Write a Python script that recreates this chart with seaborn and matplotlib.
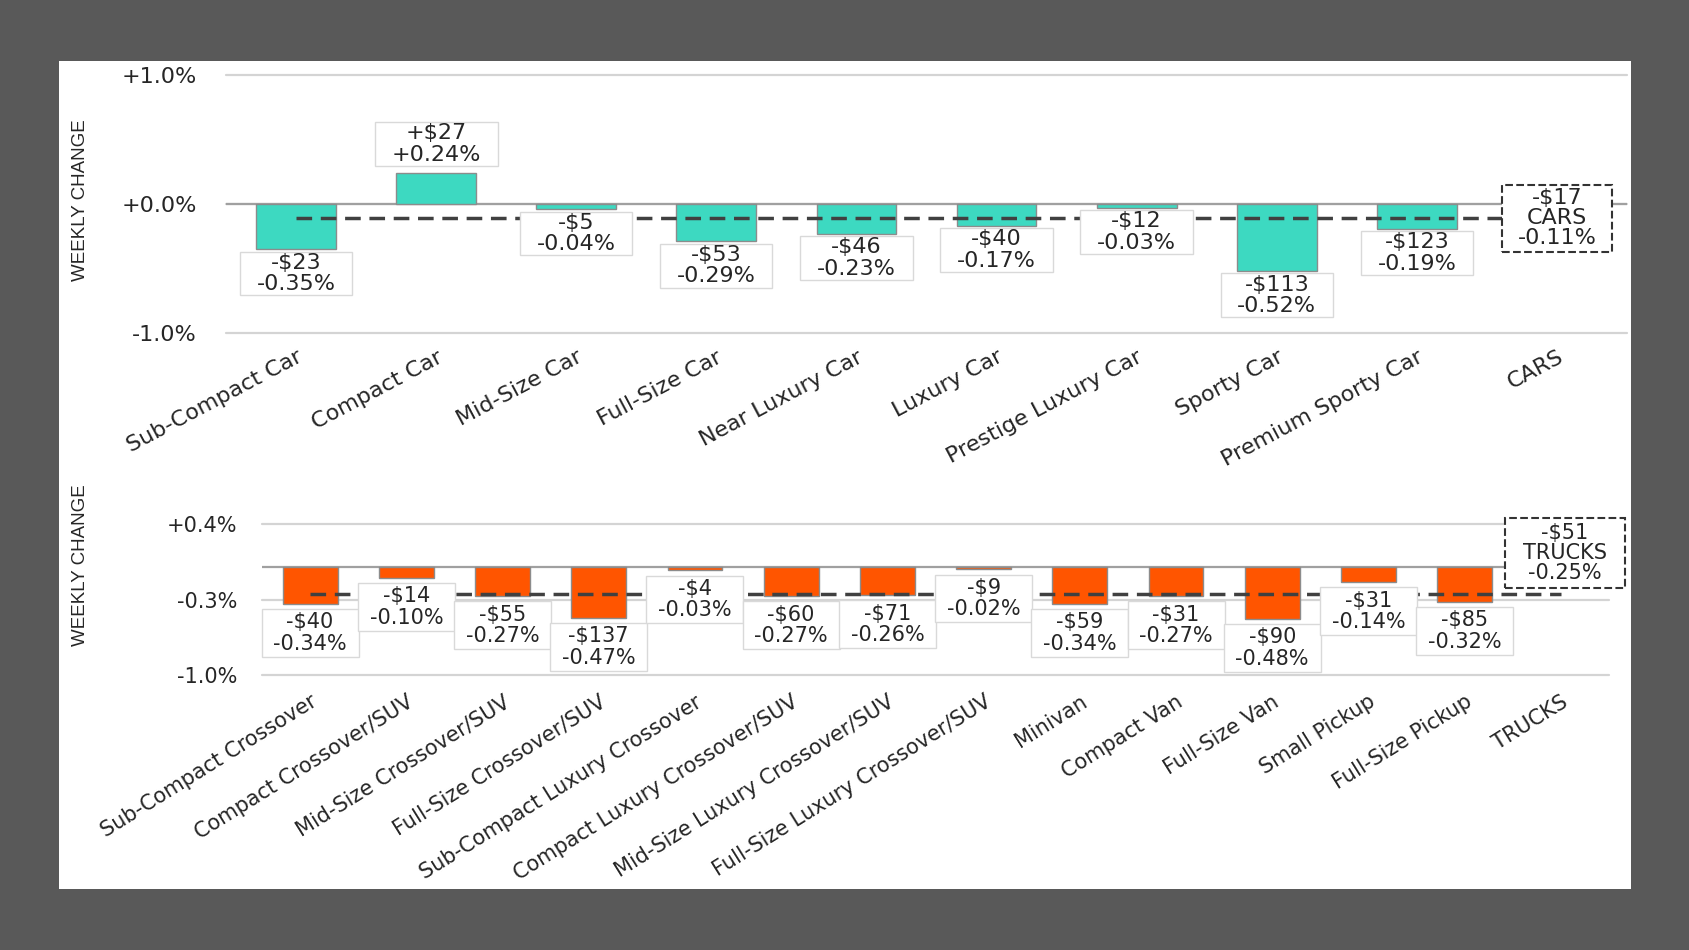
import matplotlib
matplotlib.use("Agg")
import matplotlib.pyplot as plt
from matplotlib.patches import Rectangle
from matplotlib.path import Path
import seaborn as sns

# Data: weekly change by segment
car_cats = ["Sub-Compact Car", "Compact Car", "Mid-Size Car", "Full-Size Car",
            "Near Luxury Car", "Luxury Car", "Prestige Luxury Car", "Sporty Car",
            "Premium Sporty Car"]
car_dollars = [-23, 27, -5, -53, -46, -40, -12, -113, -123]
car_pcts = [-0.35, 0.24, -0.04, -0.29, -0.23, -0.17, -0.03, -0.52, -0.19]
car_total_name = "CARS"
car_total_dollar = -17
car_total_pct = -0.11
car_yticks = [1.0, 0.0, -1.0]

truck_cats = ["Sub-Compact Crossover", "Compact Crossover/SUV", "Mid-Size Crossover/SUV",
              "Full-Size Crossover/SUV", "Sub-Compact Luxury Crossover",
              "Compact Luxury Crossover/SUV", "Mid-Size Luxury Crossover/SUV",
              "Full-Size Luxury Crossover/SUV", "Minivan", "Compact Van", "Full-Size Van",
              "Small Pickup", "Full-Size Pickup"]
truck_dollars = [-40, -14, -55, -137, -4, -60, -71, -9, -59, -31, -90, -31, -85]
truck_pcts = [-0.34, -0.10, -0.27, -0.47, -0.03, -0.27, -0.26, -0.02, -0.34, -0.27,
              -0.48, -0.14, -0.32]
truck_total_name = "TRUCKS"
truck_total_dollar = -51
truck_total_pct = -0.25
truck_yticks = [0.4, -0.3, -1.0]

# Style
sns.set_theme(style="white")
plt.rcParams["font.family"] = ["DejaVu Sans"]
TEXT = "#262626"
W, H = 1690, 950

fig = plt.figure(figsize=(W / 100, H / 100), dpi=100, facecolor="#595959")
fig.add_artist(Rectangle((59 / W, 1 - 889 / H), (1631 - 59) / W, (889 - 61) / H,
                         transform=fig.transFigure, facecolor="white",
                         edgecolor="none", zorder=0))


def money(d):
    return f"{'+' if d > 0 else '-'}${abs(d)}"


def wide_box(padx, pady):
    # square box with separate horizontal / vertical padding (fraction of font size)
    def box(x0, y0, width, height, mutation_size):
        px, py = padx * mutation_size, pady * mutation_size
        xa, ya = x0 - px, y0 - py
        xb, yb = x0 + width + px, y0 + height + py
        return Path([(xa, ya), (xb, ya), (xb, yb), (xa, yb), (xa, ya)], closed=True)
    return box


def draw_panel(ax, cats, dollars, pcts, total_name, total_dollar, total_pct, color,
               yticks, fs, rot, ypad, xpad, lab_pad, lab_off, tot_pad, total_va,
               total_off):
    order = cats + [total_name]
    sns.barplot(x=cats, y=pcts, order=order, color=color, saturation=1, width=0.57,
                edgecolor="#8c8c8c", linewidth=1, errorbar=None, ax=ax, zorder=2)
    ax.set_facecolor("none")
    ax.set_ylim(min(yticks), max(yticks))
    ax.set_xlim(-0.5, len(order) - 0.5)

    for t in yticks:
        ax.axhline(t, color="#d4d4d4", lw=1.6, zorder=0.5, clip_on=False)
    ax.axhline(0, color="#a0a0a0", lw=1.6, zorder=1)

    ax.set_yticks(yticks)
    ax.set_yticklabels([f"{t:+.1f}%" for t in yticks])
    ax.set_xticks(range(len(order)))
    ax.set_xticklabels(order, rotation=rot, ha="right", rotation_mode="anchor")
    ax.tick_params(axis="y", length=0, pad=ypad, labelsize=fs, labelcolor=TEXT)
    ax.tick_params(axis="x", length=0, pad=xpad, labelsize=fs, labelcolor=TEXT)
    ax.set_xlabel("")
    ax.set_ylabel("")
    sns.despine(ax=ax, left=True, bottom=True)

    # value labels
    up_off, down_off = lab_off
    for i, (d, p) in enumerate(zip(dollars, pcts)):
        up = p >= 0
        ax.annotate(f"{money(d)}\n{p:+.2f}%", xy=(i, p),
                    xytext=(0, up_off if up else -down_off),
                    textcoords="offset points", ha="center",
                    va="bottom" if up else "top", fontsize=fs, color=TEXT,
                    linespacing=1.1, zorder=5,
                    bbox=dict(boxstyle=wide_box(*lab_pad), fc="white",
                              ec="#d9d9d9", lw=1))

    # segment average line + box
    ax.hlines(total_pct, 0, len(cats), colors="#404040",
              linestyles=(0, (4.5, 2.5)), lw=2.5, zorder=3)
    ax.annotate(f"{money(total_dollar)}\n{total_name}\n{total_pct:+.2f}%",
                xy=(len(cats), total_pct), xytext=total_off,
                textcoords="offset points", ha="center", va=total_va, fontsize=fs,
                color=TEXT, linespacing=1.0, zorder=6, annotation_clip=False,
                bbox=dict(boxstyle=wide_box(*tot_pad), fc="white", ec="#333333",
                          lw=1.5, ls="--"))


ax1 = fig.add_axes([226 / W, 1 - 333 / H, (1627 - 226) / W, (333 - 75) / H])
draw_panel(ax1, car_cats, car_dollars, car_pcts, car_total_name, car_total_dollar,
           car_total_pct, "#3dd9c1", car_yticks, 16, 28, 21, 10,
           (0.75, 0.05), (6, 2.5), (0.72, 0.16), "center", (0, 0))

ax2 = fig.add_axes([262 / W, 1 - 675 / H, (1609 - 262) / W, (675 - 524) / H])
draw_panel(ax2, truck_cats, truck_dollars, truck_pcts, truck_total_name,
           truck_total_dollar, truck_total_pct, "#ff5500", truck_yticks, 15, 32, 18,
           12, (0.56, 0.15), (7, 6), (0.85, 0.25), "bottom", (3, 8))

for yc in (200, 565):
    fig.text(81 / W, 1 - yc / H, "WEEKLY CHANGE", rotation=90, ha="center",
             va="center", fontsize=13.5, color=TEXT, family="Liberation Sans")

fig.savefig("out.png", dpi=100, facecolor=fig.get_facecolor())
